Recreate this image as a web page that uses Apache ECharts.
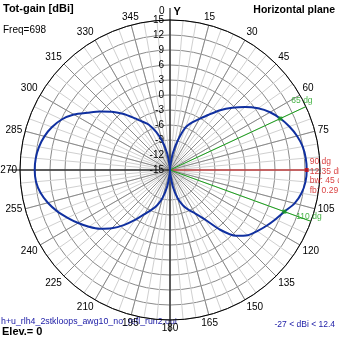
<!DOCTYPE html>
<html>
<head>
<meta charset="utf-8">
<script src="https://cdn.jsdelivr.net/npm/echarts@6/dist/echarts.min.js"></script>
<style>
  html, body { margin: 0; padding: 0; background: #ffffff; }
  #chart { width: 339px; height: 339px; }
</style>
</head>
<body>
<div id="chart"></div>
<script>
// Azimuth angles (degrees, clockwise from Y axis)
const azimuth = [
  0, 5, 10, 15, 20, 25, 30, 35, 40, 45, 50, 55, 60, 65, 70, 75, 80, 85,
  90, 95, 100, 105, 110, 115, 120, 125, 130, 135, 140, 145, 150, 155, 160, 165,
  170, 175, 180, 185, 190, 195, 200, 205, 210, 215, 220, 225, 230, 235, 240, 245,
  250, 255, 260, 265, 270, 275, 280, 285, 290, 295, 300, 305, 310, 315, 320, 325,
  330, 335, 340, 345, 350, 355, 360
];
// Total gain in dBi at each azimuth
const totGain = [
  -27, -14.0, -11.5, -8.8, -6.0, -4.5, -3.2, -1.5, 0.6, 2.6, 4.6, 6.5, 8.1, 9.35, 10.4, 11.3, 11.95, 12.25,
  12.35, 12.2, 11.7, 10.8, 9.35, 8.3, 7.3, 6.3, 5.3, 3.6, 0.6, -3.0, -5.0, -6.2, -7.5, -9.2,
  -11.5, -14.0, -27, -14.0, -11.5, -9.2, -7.5, -6.2, -4.8, -2.8, -0.6, 1.5, 3.3, 4.8, 6.2, 7.6,
  9.05, 10.3, 11.3, 11.9, 12.06, 11.95, 11.6, 11.0, 10.1, 8.9, 7.2, 5.0, 3.2, 1.5, -0.3, -2.2,
  -3.8, -5.0, -6.9, -9.0, -11.5, -14.0, -27
];
// Radial scale (dBi)
const gainMin = -15;
const gainMax = 15;
const gainStep = 3;
// Main lobe markers
const maxAngle = 90;
const maxGain = 12.35;
const beamEdges = [65, 110];
const beamEdgeGain = 9.35;
const beamLabels = ['65 dg', '110 dg'];
const infoLines = ['90 dg', '12.35 dBi', 'bw: 45 dg', 'fb: 0.29 dB'];

const FONT = 'Liberation Sans, Arial, sans-serif';
const CX = 170, CY = 170, R = 150;
const GREEN = '#1aa01a', RED = '#d01010', BLUE = '#1030a0';

const patternData = azimuth.map((a, i) => [Math.max(totGain[i], gainMin), a]);

const chart = echarts.init(document.getElementById('chart'), null, { renderer: 'canvas' });

// Green beam-edge rays from the centre to the outer ring
const beamSeries = beamEdges.map(a => ({
  type: 'line',
  coordinateSystem: 'polar',
  polarIndex: 1,
  silent: true,
  symbol: 'none',
  lineStyle: { color: GREEN, width: 1 },
  z: 4,
  data: [[gainMin, a], [gainMax, a]]
}));

// Text placement of the ray labels at the outer end of each ray
const beamLabelPlacement = [
  { position: 'top', distance: 1, offset: [-4, 0] },
  { position: 'inside', offset: [-2, -5] }
];

chart.setOption({
  animation: false,
  backgroundColor: '#ffffff',
  polar: [
    { center: [CX, CY], radius: R },
    { center: [CX, CY], radius: R },
    { center: [CX, CY], radius: 162 }
  ],
  angleAxis: [
    {
      polarIndex: 0, type: 'value', min: 0, max: 360, interval: 5,
      startAngle: 90, clockwise: true,
      axisLine: { show: false }, axisTick: { show: false }, axisLabel: { show: false },
      splitLine: { show: true, lineStyle: { color: '#d0d0d0', width: 1 } }
    },
    {
      polarIndex: 1, type: 'value', min: 0, max: 360, interval: 15,
      startAngle: 90, clockwise: true,
      axisLine: { show: true, lineStyle: { color: '#000000', width: 1 } },
      axisTick: { show: false },
      axisLabel: {
        show: true, margin: 3, color: '#000000', fontFamily: FONT, fontSize: 10,
        formatter: v => (v === 0 ? '{a|0}{s|}{b|Y}' : (v === 90 || v === 360 ? '' : String(v))),
        rich: {
          a: { fontFamily: FONT, fontSize: 10, color: '#000' },
          s: { width: 9 },
          b: { fontFamily: FONT, fontSize: 11, fontWeight: 'bold', color: '#000' }
        }
      },
      splitLine: { show: true, lineStyle: { color: '#8a8a8a', width: 1 } }
    },
    {
      polarIndex: 2, type: 'value', min: 0, max: 360, interval: 90,
      startAngle: 90, clockwise: true,
      axisLine: { show: false }, axisTick: { show: false }, axisLabel: { show: false },
      splitLine: { show: true, lineStyle: { color: ['#000000', 'rgba(0,0,0,0)', '#000000', '#000000'], width: 1 } }
    }
  ],
  radiusAxis: [
    {
      polarIndex: 0, type: 'value', min: gainMin, max: gainMax, interval: gainStep,
      axisLine: { show: false }, axisTick: { show: false }, axisLabel: { show: false },
      splitLine: { show: false }
    },
    {
      polarIndex: 1, type: 'value', min: gainMin, max: gainMax, interval: gainStep,
      axisLine: { show: false }, axisTick: { show: false },
      axisLabel: { show: true, color: '#000000', fontFamily: FONT, fontSize: 10, margin: 6 },
      splitLine: { show: true, lineStyle: { color: '#8a8a8a', width: 1 } }
    },
    {
      polarIndex: 2, type: 'value', min: 0, max: 1,
      axisLine: { show: false }, axisTick: { show: false }, axisLabel: { show: false },
      splitLine: { show: false }
    }
  ],
  series: [
    {
      type: 'line',
      coordinateSystem: 'polar',
      polarIndex: 1,
      silent: true,
      symbol: 'none',
      smooth: 0.25,
      lineStyle: { color: BLUE, width: 2 },
      data: patternData,
      z: 5
    },
    {
      type: 'line',
      coordinateSystem: 'polar',
      polarIndex: 1,
      silent: true,
      symbol: 'none',
      lineStyle: { color: RED, width: 1 },
      data: [[gainMin, maxAngle], [maxGain, maxAngle]],
      z: 4
    },
    ...beamSeries,
    {
      // labels at the outer ends of the green rays
      type: 'scatter',
      coordinateSystem: 'polar',
      polarIndex: 1,
      silent: true,
      symbolSize: 0,
      z: 6,
      data: beamEdges.map((a, i) => ({
        value: [gainMax, a],
        label: Object.assign({
          show: true,
          formatter: beamLabels[i],
          color: GREEN,
          fontFamily: FONT,
          fontSize: 8.5
        }, beamLabelPlacement[i])
      }))
    },
    {
      type: 'scatter',
      coordinateSystem: 'polar',
      polarIndex: 1,
      silent: true,
      symbol: 'rect',
      symbolSize: 4,
      itemStyle: { color: GREEN },
      data: beamEdges.map(a => [beamEdgeGain, a]),
      z: 6
    },
    {
      type: 'scatter',
      coordinateSystem: 'polar',
      polarIndex: 1,
      silent: true,
      symbol: 'rect',
      symbolSize: 4,
      itemStyle: { color: RED },
      data: [[maxGain, maxAngle]],
      z: 6,
      label: {
        show: true,
        position: 'right',
        distance: 1,
        offset: [0, 6],
        formatter: infoLines.join('\n'),
        color: RED,
        fontFamily: FONT,
        fontSize: 8.5,
        lineHeight: 9.5,
        align: 'left'
      }
    }
  ],
  graphic: [
    { type: 'text', left: 3, top: 3, style: { text: 'Tot-gain [dBi]', font: 'bold 11px ' + FONT, fill: '#000' } },
    { type: 'text', left: 3, top: 25, style: { text: 'Freq=698', font: '10px ' + FONT, fill: '#000' } },
    { type: 'text', right: 4, top: 5, style: { text: 'Horizontal plane', font: 'bold 10.5px ' + FONT, fill: '#000' } },
    { type: 'text', left: 1, top: 317, style: { text: 'h+u_rlh4_2stkloops_awg10_no_refl_run2.out', font: '8.8px ' + FONT, fill: '#2020a8' } },
    { type: 'text', left: 2, top: 326, style: { text: 'Elev.= 0', font: 'bold 11px ' + FONT, fill: '#000' } },
    { type: 'text', right: 4, top: 320, style: { text: '-27 < dBi < 12.4', font: '8.5px ' + FONT, fill: '#2020a8' } }
  ]
});
</script>
</body>
</html>
